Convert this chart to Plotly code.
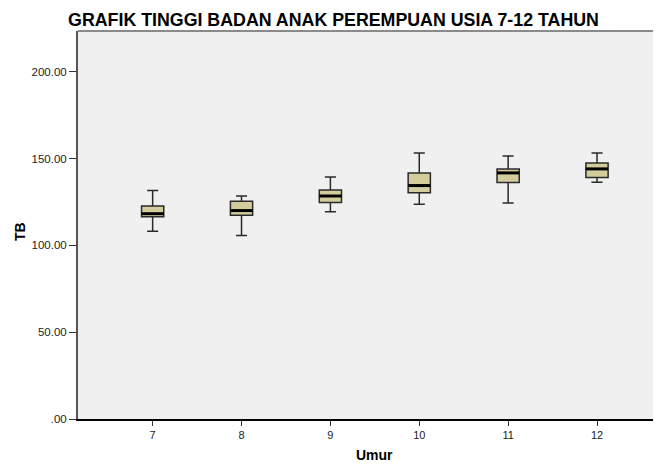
import plotly.graph_objects as go

ages = [7, 8, 9, 10, 11, 12]
lower = [108.1, 105.6, 119.4, 123.6, 124.4, 136.3]
q1 = [116.5, 117.3, 124.6, 130.3, 136.1, 139.0]
median = [118.2, 120.0, 128.4, 134.4, 141.7, 144.0]
q3 = [122.7, 125.4, 131.9, 141.7, 144.0, 147.4]
upper = [131.5, 128.4, 139.4, 153.2, 151.5, 153.2]
y_ticks = [0, 50, 100, 150, 200]
y_tick_labels = [".00", "50.00", "100.00", "150.00", "200.00"]

BOX_W = 0.25
FONT = "Liberation Sans, Arial, sans-serif"

fig = go.Figure()
fig.add_trace(go.Box(
    x=ages, q1=q1, median=median, q3=q3,
    lowerfence=lower, upperfence=upper,
    width=BOX_W, whiskerwidth=0.5,
    fillcolor="#d3cd9e",
    line=dict(color="#2a2a2a", width=1.5),
    boxpoints=False, showlegend=False, hoverinfo="skip",
))
# thicker median lines
mx, my = [], []
for a, m in zip(ages, median):
    mx += [a - BOX_W / 2, a + BOX_W / 2, None]
    my += [m, m, None]
fig.add_trace(go.Scatter(x=mx, y=my, mode="lines",
                         line=dict(color="#000000", width=3),
                         showlegend=False, hoverinfo="skip"))

fig.update_layout(
    width=653, height=457,
    margin=dict(l=70, r=0, t=23, b=46),
    paper_bgcolor="white", plot_bgcolor="#f0f0f0",
    font=dict(family=FONT, color="#222222", size=11),
    title=dict(text="<b>GRAFIK TINGGI BADAN ANAK PEREMPUAN USIA 7-12 TAHUN</b>",
               x=0.4985, xanchor="center", y=0.974, yanchor="middle",
               font=dict(family=FONT, size=17.8, color="#000000")),
    xaxis=dict(range=[6.16, 12.72], tickvals=ages, ticktext=[str(a) for a in ages],
               showgrid=False, zeroline=False, showline=True,
               linecolor="#000000", linewidth=1.5,
               ticks="outside", ticklen=5, tickcolor="#333333", tickwidth=1,
               tickfont=dict(size=11, color="#222222")),
    yaxis=dict(range=[0, 223.4], tickvals=y_ticks, ticktext=y_tick_labels,
               showgrid=False, zeroline=False, showline=True,
               linecolor="#555555", linewidth=2,
               ticks="outside", ticklen=7, tickcolor="#333333", tickwidth=1,
               tickfont=dict(size=11.5, color="#222222")),
    shapes=[
        dict(type="line", xref="paper", yref="paper", x0=0, x1=1, y0=1, y1=1,
             line=dict(color="#8a8a8a", width=2)),
        dict(type="line", xref="paper", yref="paper", x0=1, x1=1, y0=0, y1=1,
             line=dict(color="#8a8a8a", width=2)),
    ],
    annotations=[
        dict(text="<b>TB</b>", xref="paper", yref="paper", x=-0.0995, y=0.4845,
             xanchor="center", yanchor="middle", textangle=-90, showarrow=False,
             font=dict(family=FONT, size=14, color="#000000")),
        dict(text="<b>Umur</b>", xref="paper", yref="paper", x=0.509, y=-0.0928,
             xanchor="center", yanchor="middle", showarrow=False,
             font=dict(family=FONT, size=14, color="#000000")),
    ],
)

fig.write_html("out.html")
